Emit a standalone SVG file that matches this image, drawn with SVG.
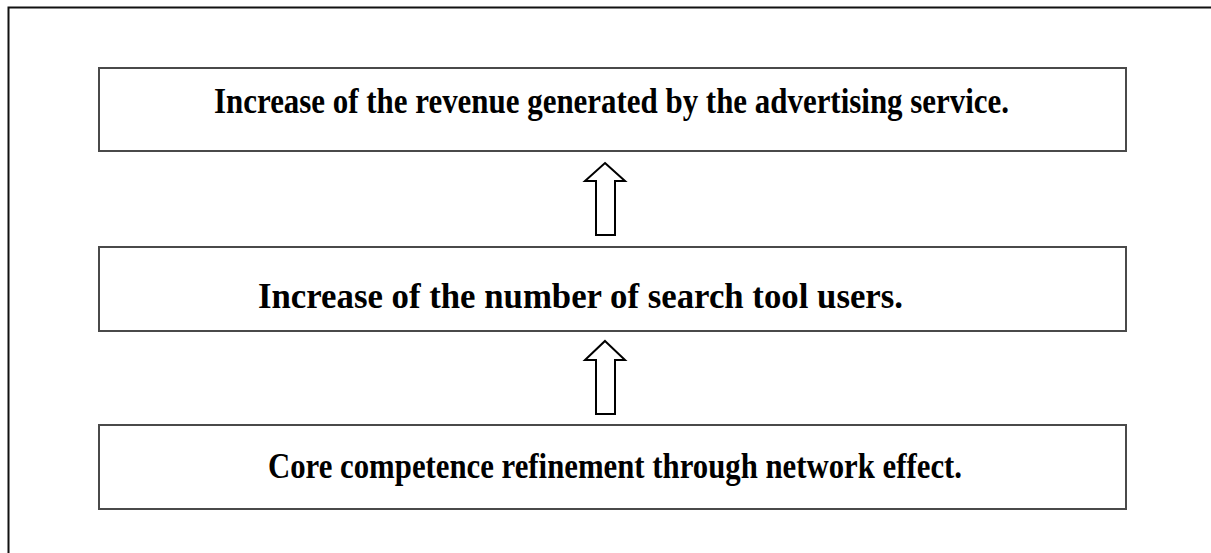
<svg xmlns="http://www.w3.org/2000/svg" width="1211" height="553" viewBox="0 0 1211 553">
<style>
.box{fill:#fff;stroke:#4a4a4a;stroke-width:2}
.lbl{font-family:"Liberation Serif","Times New Roman",serif;font-weight:bold;font-size:35px;fill:#000}
.arr{fill:#fff;stroke:#000;stroke-width:2;stroke-linejoin:miter}
</style>
<rect width="1211" height="553" fill="#fff"/>
<path d="M8.5,553 V7.5 H1211" fill="none" stroke="#111" stroke-width="2"/>
<g id="node-revenue">
<rect class="box" x="99" y="68" width="1027" height="83"/>
<text class="lbl" x="214" y="113" textLength="795" lengthAdjust="spacingAndGlyphs">Increase of the revenue generated by the advertising service.</text>
</g>
<g id="node-users">
<rect class="box" x="99" y="247" width="1027" height="84"/>
<text class="lbl" x="258" y="308" textLength="645" lengthAdjust="spacingAndGlyphs">Increase of the number of search tool users.</text>
</g>
<g id="node-core">
<rect class="box" x="99" y="425" width="1027" height="84"/>
<text class="lbl" x="268" y="478" textLength="694" lengthAdjust="spacingAndGlyphs">Core competence refinement through network effect.</text>
</g>
<g id="connectors">
<path class="arr" d="M605,163 L625,181 L615,181 L615,235 L596,235 L596,181 L585,181 Z"/>
<path class="arr" d="M605,341 L625,360 L615,360 L615,414 L596,414 L596,360 L585,360 Z"/>
</g>
</svg>
